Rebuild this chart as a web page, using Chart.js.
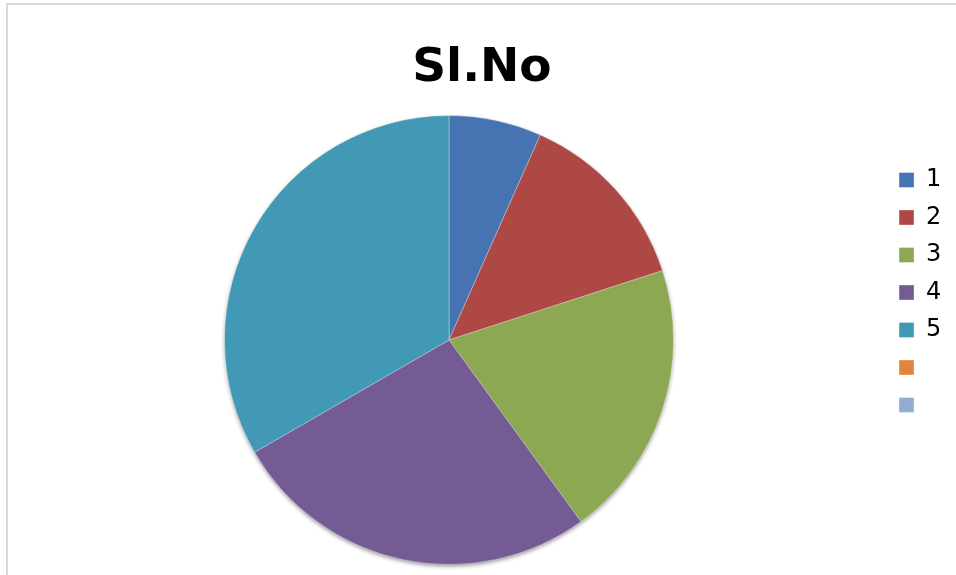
<!DOCTYPE html>
<html>
<head>
<meta charset="utf-8">
<script src="https://cdn.jsdelivr.net/npm/chart.js@4/dist/chart.umd.min.js"></script>
<style>
  html, body { margin: 0; padding: 0; background: #ffffff; overflow: hidden; }
  #frame { position: absolute; left: 6px; top: 3px; width: 1000px; height: 640px; border: 2px solid #d9d9d9; box-sizing: border-box; }
  #c { position: absolute; left: 0; top: 0; }
</style>
</head>
<body>
<div id="frame"></div>
<canvas id="c" width="956" height="575"></canvas>
<script>
const chartTitle = 'Sl.No';
const categories = ['1', '2', '3', '4', '5', '', ''];
const values = [1, 2, 3, 4, 5, null, null];
const colors = ['#4673b1', '#ae4844', '#8da852', '#755b94', '#4299b5', '#df8540', '#93aad1'];

const pieShadow = {
  id: 'pieShadow',
  beforeDatasetsDraw(chart) {
    const arc = chart.getDatasetMeta(0).data[0];
    if (!arc) return;
    const ctx = chart.ctx;
    ctx.save();
    ctx.shadowColor = 'rgba(0,0,0,0.45)';
    ctx.shadowBlur = 4;
    ctx.shadowOffsetY = 2;
    ctx.beginPath();
    ctx.arc(arc.x, arc.y, arc.outerRadius - 0.5, 0, Math.PI * 2);
    ctx.fillStyle = '#6a5288';
    ctx.fill();
    ctx.restore();
  }
};

new Chart(document.getElementById('c'), {
  type: 'pie',
  data: {
    labels: categories,
    datasets: [{
      data: values,
      backgroundColor: colors,
      borderColor: 'rgba(255,255,255,0.35)',
      borderWidth: 1,
      hoverOffset: 0,
      offset: 0
    }]
  },
  options: {
    responsive: false,
    animation: false,
    devicePixelRatio: 1,
    layout: { padding: { left: 12.5, right: 4.7, top: 20, bottom: 10 } },
    plugins: {
      tooltip: { enabled: false },
      title: {
        display: true,
        text: chartTitle,
        color: '#000000',
        font: { family: 'DejaVu Sans', size: 47, weight: 'bold', lineHeight: 1.2 },
        padding: { top: 20.3, bottom: 18.3 }
      },
      legend: {
        display: true,
        position: 'right',
        align: 'center',
        labels: {
          color: '#000000',
          font: { family: 'DejaVu Sans', size: 24 },
          boxWidth: 15,
          boxHeight: 15,
          padding: 13.5
        }
      }
    }
  },
  plugins: [pieShadow]
});
</script>
</body>
</html>
